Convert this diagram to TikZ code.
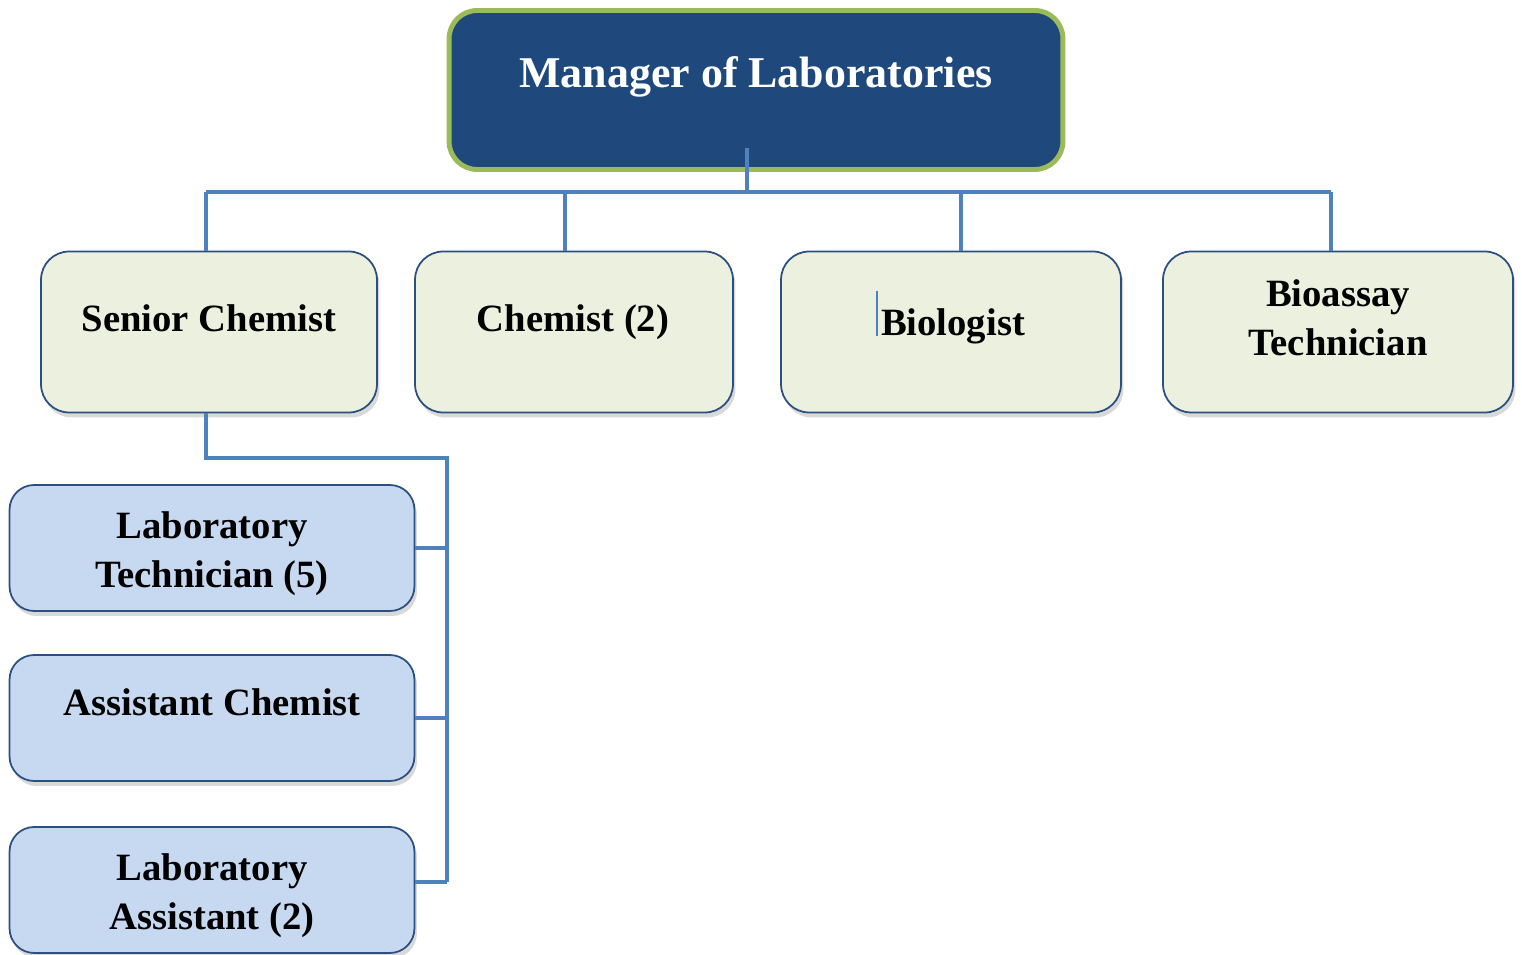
\documentclass[tikz,border=0pt]{standalone}
\usepackage{fontspec}
\setmainfont{Liberation Serif}
\usepackage{tikz}
\usetikzlibrary{positioning,calc,shadows}
\definecolor{labnavy}{HTML}{1F497D}
\definecolor{labolive}{HTML}{9BBB59}
\definecolor{labsage}{HTML}{EBF1DE}
\definecolor{labice}{HTML}{C6D9F1}
\definecolor{labedge}{HTML}{2B4F81}
\definecolor{labwire}{HTML}{4F81BD}

\begin{document}
\begin{tikzpicture}[x=0.02cm,y=-0.02cm,
  head/.style={draw=labolive,line width=2.8pt,fill=labnavy,rounded corners=16pt,
               minimum width=12.28cm,minimum height=3.18cm},
  role/.style={draw=labedge,line width=1pt,fill=labsage,rounded corners=16pt,
               minimum height=3.22cm,
               drop shadow={shadow xshift=0.5mm,shadow yshift=-1mm,opacity=0.3}},
  staff/.style={role,fill=labice,minimum width=8.1cm,minimum height=2.52cm,
               rounded corners=14pt},
  txt/.style={font=\fontsize{22}{28}\selectfont\bfseries,align=center,inner sep=0pt},
  link/.style={draw=labwire,line width=2.8pt},
  caret/.style={draw=labwire,line width=1.2pt}]

  \useasboundingbox (0,0) rectangle (1522,955);

  % top of the chart
  \node[head] (mgr) at (756,90) {};
  \node[txt,anchor=base,text=white,font=\fontsize{25}{28}\selectfont\bfseries]
       (mgrT) at (756,88) {Manager of Laboratories};

  % second row
  \node[role,minimum width=6.72cm] (sen) at (209,332) {};
  \node[role,minimum width=6.36cm] (chem) at (574,332) {};
  \node[role,minimum width=6.8cm] (biol) at (951,332) {};
  \node[role,minimum width=7.0cm] (bioa) at (1338,332) {};
  \node[txt,anchor=base] (senT) at (209,332) {Senior Chemist};
  \node[txt,anchor=base] (chemT) at (573,332) {Chemist (2)};
  \node[txt,anchor=base] (biolT) at (953,336) {Biologist};
  \node[txt] (bioaT) at (1338,318) {Bioassay\\Technician};

  % under the senior chemist
  \node[staff] (labt) at (212,548) {};
  \node[staff] (asst) at (212,718) {};
  \node[staff] (laba) at (212,890) {};
  \node[txt] (labtT) at (212,554) {Laboratory\\Technician (5)};
  \node[txt,anchor=base] (asstT) at (212,716) {Assistant Chemist};
  \node[txt] (labaT) at (212,896) {Laboratory\\Assistant (2)};

  % connectors
  \coordinate (tap) at (747,148);
  \coordinate (bus) at (747,192);
  \coordinate (busL) at (206,192);
  \coordinate (busR) at (1331,192);
  \coordinate (elbow) at (447,458);
  \coordinate (spineEnd) at (447,882);

  \draw[link] (tap) -- (bus);
  \draw[link] (busL) -- (busR);
  \draw[link] (busL) -- (busL |- sen.north);
  \draw[link] ([xshift=-0.18cm]chem.north) -- ++(0,-59);
  \draw[link] ([xshift=0.2cm]biol.north) -- ++(0,-59);
  \draw[link] (busR) -- (busR |- bioa.north);

  \draw[link] ([xshift=-0.06cm]sen.south) |- (elbow) -- (spineEnd);
  \draw[link] (labt.east) -- (labt.east -| elbow);
  \draw[link] (asst.east) -- (asst.east -| elbow);
  \draw[link] (laba.east |- spineEnd) -- (spineEnd);

  \draw[caret] ([xshift=-2pt]biolT.base west) -- ++(0,-45);
\end{tikzpicture}
\end{document}
